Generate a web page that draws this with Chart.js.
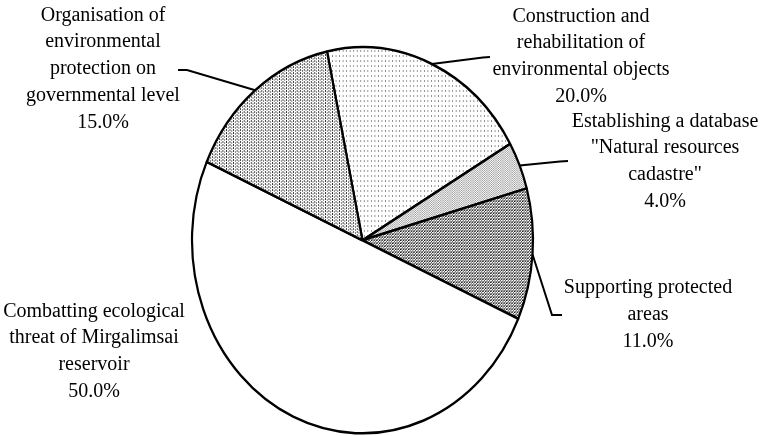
<!DOCTYPE html>
<html>
<head>
<meta charset="utf-8">
<script src="https://cdn.jsdelivr.net/npm/chart.js@4"></script>
<style>
  html, body { margin: 0; padding: 0; background: #fff; }
  #wrap { width: 762px; height: 436px; }
</style>
</head>
<body>
<div id="wrap"><canvas id="pie" width="762" height="436"></canvas></div>
<script>
// slice names (split into lines as in the figure) and shares in percent
const categories = [
    ['Construction and', 'rehabilitation of', 'environmental objects'],
    ['Establishing a database', '"Natural resources', 'cadastre"'],
    ['Supporting protected', 'areas'],
    ['Combatting ecological', 'threat of Mirgalimsai', 'reservoir'],
    ['Organisation of', 'environmental', 'protection on', 'governmental level']
];
const shares = [20, 4, 11, 50, 15];

// where each label block sits: centre x, first baseline, leader line end points
const labelSpots = [
    { x: 581, y: 21.7, leader: [[483, 57.5], [490, 57]] },
    { x: 665, y: 126.5, leader: [[560, 161.5], [568, 161]] },
    { x: 648, y: 293.3, leader: [[552, 315], [562, 315]] },
    { x: 94, y: 316.7, leader: null },
    { x: 103, y: 20.7, leader: [[187, 70], [178, 70]] }
];

const squeeze = 170.5 / 193; // the pie is drawn a bit narrower than tall
const lineStep = 26.7;

// hatch-like fills made from tiny tiles
function makePattern(w, h, dots) {
    const c = document.createElement('canvas');
    c.width = w; c.height = h;
    const g = c.getContext('2d');
    g.fillStyle = '#fff';
    g.fillRect(0, 0, w, h);
    dots.forEach(d => {
        g.fillStyle = d[4];
        g.fillRect(d[0], d[1], d[2], d[3]);
    });
    return g.createPattern(c, 'repeat');
}

const ctx = document.getElementById('pie').getContext('2d');
const fills = [
    makePattern(4, 5, [[0, 0, 1, 2, '#8a8a8a']]),
    makePattern(2, 2, [[0, 0, 1, 1, '#999'], [1, 1, 1, 1, '#aaa']]),
    makePattern(3, 3, [[0, 0, 1, 1, '#111'], [1, 0, 1, 1, '#777'], [2, 1, 1, 1, '#444'], [1, 2, 1, 1, '#666'], [0, 2, 1, 1, '#999'], [2, 2, 1, 1, '#bbb']]),
    '#ffffff',
    makePattern(4, 3, [[0, 0, 1, 2, '#333'], [2, 1, 1, 2, '#7a7a7a']])
];

const ellipsePlugin = {
    id: 'ellipse',
    beforeDatasetsDraw(chart) {
        const arc = chart.getDatasetMeta(0).data[0];
        const c = chart.ctx;
        c.save();
        c.translate(arc.x, arc.y);
        c.scale(squeeze, 1);
        c.translate(-arc.x, -arc.y);
    },
    afterDatasetsDraw(chart) {
        chart.ctx.restore();
    }
};

const labelPlugin = {
    id: 'sliceLabels',
    afterDraw(chart) {
        const c = chart.ctx;
        const meta = chart.getDatasetMeta(0);
        c.save();
        c.font = '20px "Liberation Serif", "Times New Roman", serif';
        c.fillStyle = '#000';
        c.textAlign = 'center';
        c.textBaseline = 'alphabetic';
        c.strokeStyle = '#000';
        c.lineWidth = 2;
        meta.data.forEach((arc, i) => {
            const spot = labelSpots[i];
            const lines = categories[i].concat([shares[i].toFixed(1) + '%']);
            lines.forEach((t, k) => c.fillText(t, spot.x, spot.y + k * lineStep));
            if (spot.leader) {
                const mid = (arc.startAngle + arc.endAngle) / 2;
                const ex = arc.x + Math.cos(mid) * arc.outerRadius * squeeze;
                const ey = arc.y + Math.sin(mid) * arc.outerRadius;
                c.beginPath();
                c.moveTo(ex, ey);
                spot.leader.forEach(p => c.lineTo(p[0], p[1]));
                c.stroke();
            }
        });
        c.restore();
    }
};

new Chart(ctx, {
    type: 'pie',
    data: {
        labels: categories.map(l => l.join(' ')),
        datasets: [{
            data: shares,
            backgroundColor: fills,
            borderColor: '#000',
            borderWidth: 2.5
        }]
    },
    options: {
        responsive: false,
        animation: false,
        rotation: -12,
        radius: 193,
        layout: { padding: { left: 169.5, right: 206.5, top: 47.3, bottom: 2.7 } },
        plugins: {
            legend: { display: false },
            tooltip: { enabled: false }
        }
    },
    plugins: [ellipsePlugin, labelPlugin]
});
</script>
</body>
</html>
